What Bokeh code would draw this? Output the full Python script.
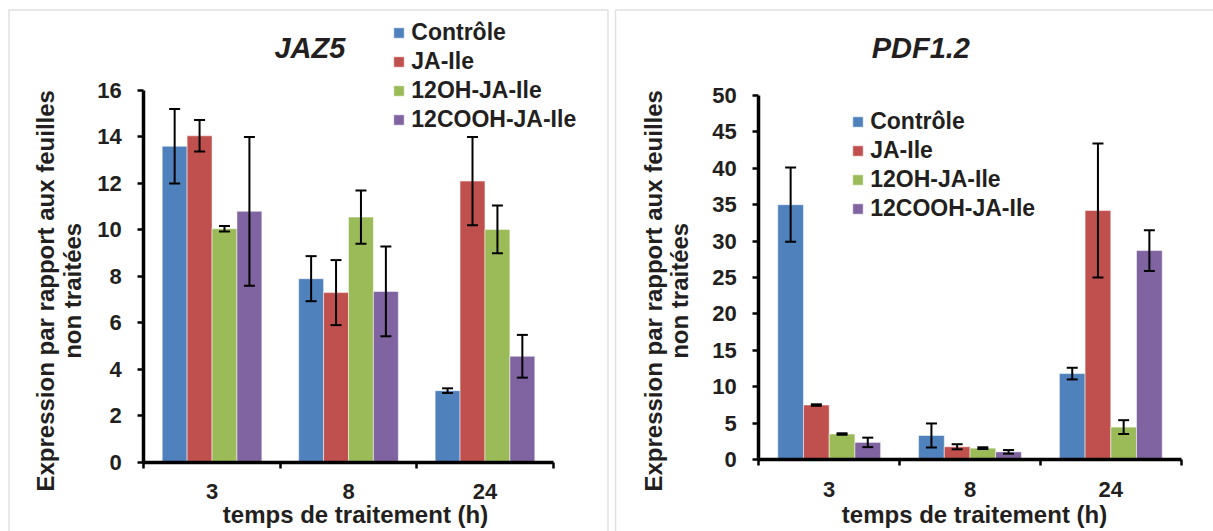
import math
from bokeh.plotting import figure
from bokeh.models import (ColumnDataSource, Range1d, FixedTicker, Whisker, TeeHead,
                          Legend, LegendItem, Label, LinearAxis, BoxAnnotation)
from bokeh.embed import file_html
from bokeh.resources import INLINE

# ---------------- data ----------------
categories = ["3", "8", "24"]
series = ["Contrôle", "JA-Ile", "12OH-JA-Ile", "12COOH-JA-Ile"]
colors = ["#4F81BD", "#C0504D", "#9BBB59", "#8064A2"]

jaz5_ctrl = [13.6, 7.9, 3.08]
jaz5_ctrl_err = [1.6, 0.97, 0.1]
jaz5_jaile = [14.05, 7.3, 12.1]
jaz5_jaile_err = [0.68, 1.4, 1.9]
jaz5_oh = [10.05, 10.55, 10.02]
jaz5_oh_err = [0.12, 1.15, 1.03]
jaz5_cooh = [10.8, 7.35, 4.56]
jaz5_cooh_err = [3.2, 1.93, 0.92]

pdf_ctrl = [35.0, 3.3, 11.8]
pdf_ctrl_err = [5.1, 1.65, 0.8]
pdf_jaile = [7.48, 1.75, 34.2]
pdf_jaile_err = [0.1, 0.35, 9.2]
pdf_oh = [3.5, 1.56, 4.45]
pdf_oh_err = [0.1, 0.12, 0.95]
pdf_cooh = [2.35, 1.05, 28.7]
pdf_cooh_err = [0.65, 0.25, 2.8]

jaz5_ticks = [0, 2, 4, 6, 8, 10, 12, 14, 16]
pdf_ticks = [0, 5, 10, 15, 20, 25, 30, 35, 40, 45, 50]
JAZ5_MAX = 16
PDF_MAX = 50

# ---------------- layout (canvas pixels) ----------------
W, H = 1213, 531
FONT = "Liberation Sans"
TXT = "#231F20"
BAR_W = 0.1826
OFFSETS = [-1.5 * BAR_W, -0.5 * BAR_W, 0.5 * BAR_W, 1.5 * BAR_W]
NCAT = len(categories)
BASE_SHIFT = 0.33  # em, compensates label anchor vs. alphabetic baseline
AX_TITLE = 24

# chart frames: axis origin px, axis end px, zero line px, top tick px
L = dict(x0=143.3, x1=552.7, y0=461.7, y1=90.0)
R = dict(x0=758.3, x1=1180.7, y0=459.0, y1=95.0)


def ranges(g, ymax):
    kx = (g["x1"] - g["x0"]) / NCAT
    ky = (g["y0"] - g["y1"]) / ymax
    xr = Range1d(-g["x0"] / kx, (W - g["x0"]) / kx)
    yr = Range1d(-(H - g["y0"]) / ky, g["y0"] / ky)
    return xr, yr


xr_l, yr_l = ranges(L, JAZ5_MAX)
xr_r, yr_r = ranges(R, PDF_MAX)

p = figure(width=W, height=H, output_backend="svg", toolbar_location=None,
           x_range=xr_l, y_range=yr_l, x_axis_location=None, y_axis_location=None,
           min_border_left=0, min_border_right=0, min_border_top=0, min_border_bottom=0)
p.extra_x_ranges = {"rx": xr_r}
p.extra_y_ranges = {"ry": yr_r}
p.outline_line_color = None
p.xgrid.visible = False
p.ygrid.visible = False

# helper: canvas px -> default (left) data coords, for text placement
KX = (L["x1"] - L["x0"]) / NCAT
KY = (L["y0"] - L["y1"]) / JAZ5_MAX


def dx(px):
    return (px - L["x0"]) / KX


def dy(py):
    return (L["y0"] - py) / KY


# panel borders
for left, right in [(8.5, 607.5), (615.0, 1400.0)]:
    p.add_layout(BoxAnnotation(left=left, right=right, top=9.5, bottom=700,
                               left_units="canvas", right_units="canvas",
                               top_units="canvas", bottom_units="canvas",
                               fill_alpha=0, line_color="#9d9d9d", line_width=1.5,
                               level="underlay"))


def chart(values, errors, yticks, ymax, rx, ry, title, title_px, ylab_px, xlab_px, leg_loc):
    kw = {} if rx is None else dict(x_range_name=rx, y_range_name=ry)
    items = []
    for j, (name, vals, errs, col) in enumerate(zip(series, values, errors, colors)):
        xs = [i + 0.5 + OFFSETS[j] for i in range(NCAT)]
        src = ColumnDataSource(dict(x=xs, top=vals,
                                    upper=[v + e for v, e in zip(vals, errs)],
                                    lower=[v - e for v, e in zip(vals, errs)]))
        r = p.vbar(x="x", top="top", width=BAR_W, bottom=0, source=src,
                   fill_color=col, line_color="white", line_width=1, line_alpha=0.5, **kw)
        items.append(LegendItem(label=name, renderers=[r]))
        w = Whisker(base="x", upper="upper", lower="lower", source=src,
                    line_color="black", line_width=2, level="annotation",
                    upper_head=TeeHead(size=11, line_width=2, line_color="black"),
                    lower_head=TeeHead(size=11, line_width=2, line_color="black"), **kw)
        p.add_layout(w)

    xa = LinearAxis(fixed_location=0, bounds=(0, NCAT), **kw)
    xa.ticker = FixedTicker(ticks=[i + 0.5 for i in range(NCAT)],
                            minor_ticks=list(range(NCAT + 1)))
    xa.major_label_overrides = {i + 0.5: c for i, c in enumerate(categories)}
    xa.major_tick_out = 0
    xa.major_tick_in = 0
    xa.minor_tick_out = 6
    xa.minor_tick_in = 0
    xa.minor_tick_line_width = 2.5
    xa.minor_tick_line_color = "black"
    xa.axis_line_width = 3.5
    xa.axis_line_color = "black"
    xa.major_label_text_font = FONT
    xa.major_label_text_font_style = "bold"
    xa.major_label_text_font_size = "22px"
    xa.major_label_text_color = TXT
    xa.major_label_standoff = 16
    p.add_layout(xa, "below")

    ya = LinearAxis(fixed_location=0, bounds=(0, ymax), **kw)
    ya.ticker = FixedTicker(ticks=yticks, minor_ticks=[])
    ya.major_tick_out = 6
    ya.major_tick_in = 0
    ya.major_tick_line_width = 2.5
    ya.major_tick_line_color = "black"
    ya.axis_line_width = 3.5
    ya.axis_line_color = "black"
    ya.major_label_text_font = FONT
    ya.major_label_text_font_style = "bold"
    ya.major_label_text_font_size = "22px"
    ya.major_label_text_color = TXT
    ya.major_label_standoff = 16
    p.add_layout(ya, "left")

    p.add_layout(Label(x=dx(title_px[0]), y=dy(title_px[1] - BASE_SHIFT * 29), text=title,
                       text_font=FONT, text_font_style="bold italic",
                       text_font_size="29px", text_color=TXT,
                       text_align="center", text_baseline="alphabetic"))
    for txt, bx in zip(["Expression par rapport aux feuilles", "non traitées"], ylab_px[0]):
        p.add_layout(Label(x=dx(bx - BASE_SHIFT * AX_TITLE), y=dy(ylab_px[1]), text=txt,
                           angle=math.pi / 2,
                           text_font=FONT, text_font_style="bold",
                           text_font_size=f"{AX_TITLE}px",
                           text_color=TXT, text_align="center", text_baseline="alphabetic"))
    p.add_layout(Label(x=dx(xlab_px[0]), y=dy(xlab_px[1] - BASE_SHIFT * AX_TITLE),
                       text="temps de traitement (h)",
                       text_font=FONT, text_font_style="bold",
                       text_font_size=f"{AX_TITLE}px",
                       text_color=TXT, text_align="center", text_baseline="alphabetic"))

    leg = Legend(items=items, location=leg_loc, orientation="vertical",
                 label_text_font=FONT, label_text_font_style="bold",
                 label_text_font_size="23px", label_text_color=TXT,
                 glyph_width=13, glyph_height=13, label_standoff=6,
                 label_height=20, spacing=2, padding=0, margin=0,
                 border_line_alpha=0, background_fill_alpha=0)
    p.add_layout(leg)


chart([jaz5_ctrl, jaz5_jaile, jaz5_oh, jaz5_cooh],
      [jaz5_ctrl_err, jaz5_jaile_err, jaz5_oh_err, jaz5_cooh_err],
      jaz5_ticks, JAZ5_MAX, None, None, "JAZ5",
      (309.4, 56.9), ((53.3, 80.0), 290.3), (355.0, 521.7), (392.3, 398))

chart([pdf_ctrl, pdf_jaile, pdf_oh, pdf_cooh],
      [pdf_ctrl_err, pdf_jaile_err, pdf_oh_err, pdf_cooh_err],
      pdf_ticks, PDF_MAX, "rx", "ry", "PDF1.2",
      (920.3, 56.9), ((660.7, 687.4), 290.3), (974.0, 521.7), (851.2, 309.5))

open("out.html", "w").write(file_html(p, INLINE))
